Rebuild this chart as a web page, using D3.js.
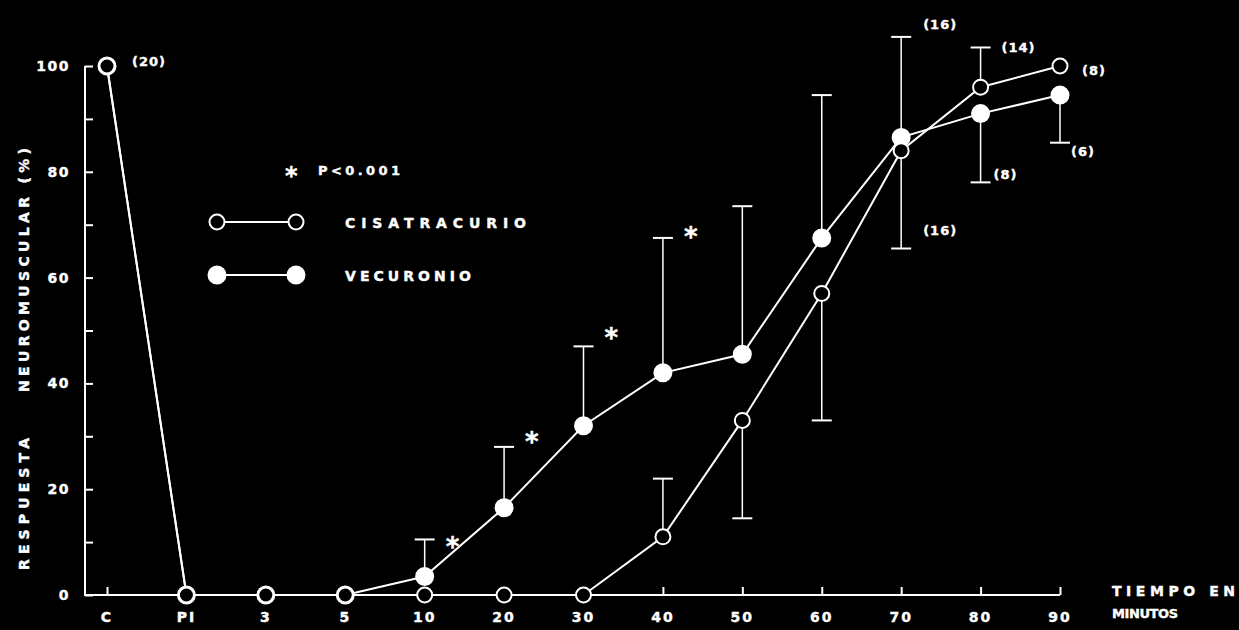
<!DOCTYPE html>
<html>
<head>
<meta charset="utf-8">
<script src="https://cdn.jsdelivr.net/npm/d3@7"></script>
<style>
body { margin: 0; background: #000; }
svg { display: block; background: #000; }
text { fill: #fff; stroke: #fff; stroke-width: 0.4px; font-family: "DejaVu Sans", sans-serif; font-weight: bold; }
</style>
</head>
<body>
<svg id="chart" width="1239" height="630"></svg>
<script>
// categories on the x axis (time points)
var categories = ["C", "PI", "3", "5", "10", "20", "30", "40", "50", "60", "70", "80", "90"]
var cisatracurio = [100, 0, 0, 0, 0, 0, 0, 11, 33, 57, 84, 96, 100]
var vecuronio = [100, 0, 0, 0, 3.5, 16.5, 32, 42, 45.5, 67.5, 86.5, 91, 94.5]

// error bar end values: [category, end]
var cisaErr = [["40", 22], ["50", 14.5], ["60", 33], ["70", 65.5], ["80", 103.5]]
var vecuErr = [["10", 10.5], ["20", 28], ["30", 47], ["40", 67.5], ["50", 73.5], ["60", 94.5], ["70", 105.5], ["80", 78], ["90", 85.5]]

// n labels: [category, value, text]
var nLabels = [["C", 101, "(20)"], ["70", 108, "(16)"], ["70", 69, "(16)"], ["80", 103.5, "(14)"], ["80", 79.5, "(8)"], ["90", 99.3, "(8)"], ["90", 84, "(6)"]]
var nOffsets = [25, 22, 22, 21, 13, 22, 11]

// significance stars: [category, value]
var stars = [["10", 10], ["20", 29.8], ["30", 49.5], ["40", 68.6]]

var yTicks = [0, 20, 40, 60, 80, 100]

var svg = d3.select("#chart")

var x = d3.scalePoint()
	.domain(categories)
	.range([107, 1060])

var y = d3.scaleLinear()
	.domain([0, 100])
	.range([595, 66])

// y axis
var yAxis = d3.axisRight(y)
	.tickValues(d3.range(0, 101, 10))
	.tickSize(8)
	.tickFormat("")

svg.append("g")
	.attr("transform", "translate(85,0)")
	.call(yAxis)
	.call(g => g.selectAll("line, path").attr("stroke", "#fff").attr("stroke-width", 2))
	.call(g => g.select(".domain").attr("d", "M0," + y(0) + "V" + y(100)))

svg.append("g")
	.selectAll("text")
	.data(yTicks)
	.join("text")
	.attr("x", 70)
	.attr("y", d => y(d) + 5)
	.attr("text-anchor", "end")
	.style("font-size", "14px")
	.style("letter-spacing", "1.5px")
	.text(d => d)

// x axis
var xAxis = d3.axisTop(x)
	.tickSize(8)
	.tickFormat("")

svg.append("g")
	.attr("transform", "translate(0," + y(0) + ")")
	.call(xAxis)
	.call(g => g.selectAll("line, path").attr("stroke", "#fff").attr("stroke-width", 2))
	.call(g => g.select(".domain").attr("d", "M84,0H1060"))

svg.append("g")
	.selectAll("text")
	.data(categories)
	.join("text")
	.attr("x", d => x(d))
	.attr("y", 622)
	.attr("text-anchor", "middle")
	.style("font-size", "14px")
	.style("letter-spacing", "2px")
	.text(d => d)

// axis titles
svg.append("text")
	.attr("transform", "translate(29,570) rotate(-90)")
	.attr("textLength", 132)
	.attr("lengthAdjust", "spacing")
	.style("font-size", "14px")
	.text("RESPUESTA")

svg.append("text")
	.attr("transform", "translate(29,392) rotate(-90)")
	.attr("textLength", 244)
	.attr("lengthAdjust", "spacing")
	.style("font-size", "14px")
	.text("NEUROMUSCULAR (%)")

svg.append("text")
	.attr("x", 1112).attr("y", 596)
	.attr("textLength", 123)
	.attr("lengthAdjust", "spacing")
	.style("font-size", "14px")
	.text("TIEMPO EN")

svg.append("text")
	.attr("x", 1112).attr("y", 618)
	.attr("textLength", 66)
	.attr("lengthAdjust", "spacing")
	.style("font-size", "13px")
	.text("MINUTOS")

// error bars
function drawErr(err, values) {
	let g = svg.append("g")
	.attr("stroke", "#fff")
	.attr("stroke-width", 1.5)
	err.forEach(function(e) {
		let i = categories.indexOf(e[0])
		let cx = x(e[0])
		g.append("line")
		.attr("x1", cx).attr("x2", cx)
		.attr("y1", y(values[i])).attr("y2", y(e[1]))
		g.append("line")
		.attr("x1", cx - 10).attr("x2", cx + 10)
		.attr("y1", y(e[1])).attr("y2", y(e[1]))
		.attr("stroke-width", 2)
	})
}
drawErr(cisaErr, cisatracurio)
drawErr(vecuErr, vecuronio)

// lines
var line = d3.line()
	.x((d, i) => x(categories[i]))
	.y(d => y(d))

function drawSeries(values, filled) {
	svg.append("path")
	.datum(values)
	.attr("d", line)
	.attr("fill", "none")
	.attr("stroke", "#fff")
	.attr("stroke-width", 2)

	svg.append("g")
	.selectAll("circle")
	.data(values)
	.join("circle")
	.attr("cx", (d, i) => x(categories[i]))
	.attr("cy", d => y(d))
	.attr("r", filled ? 8.5 : 7.5)
	.attr("fill", filled ? "#fff" : "#000")
	.attr("stroke", "#fff")
	.attr("stroke-width", 2)
}
drawSeries(vecuronio, true)
drawSeries(cisatracurio, false)

// n labels
svg.append("g")
	.selectAll("text")
	.data(nLabels)
	.join("text")
	.attr("x", (d, i) => x(d[0]) + nOffsets[i])
	.attr("y", d => y(d[1]) + 5)
	.style("font-size", "13px")
	.style("letter-spacing", "1px")
	.text(d => d[2])

// stars
svg.append("g")
	.selectAll("text")
	.data(stars)
	.join("text")
	.attr("x", d => x(d[0]) + 21)
	.attr("y", d => y(d[1]) + 14)
	.style("font-size", "26px")
	.text("*")

// legend
svg.append("text")
	.attr("x", 285).attr("y", 184)
	.style("font-size", "24px")
	.text("*")

svg.append("text")
	.attr("x", 318).attr("y", 175)
	.attr("textLength", 82)
	.attr("lengthAdjust", "spacing")
	.style("font-size", "13px")
	.text("P<0.001")

var legend = [["CISATRACURIO", false, 222, 181], ["VECURONIO", true, 275, 126]]
legend.forEach(function(l) {
	let g = svg.append("g")
	g.append("line")
	.attr("x1", 217).attr("x2", 296)
	.attr("y1", l[2]).attr("y2", l[2])
	.attr("stroke", "#fff").attr("stroke-width", 2)
	g.selectAll("circle")
	.data([217, 296])
	.join("circle")
	.attr("cx", d => d).attr("cy", l[2])
	.attr("r", l[1] ? 8.5 : 7.5)
	.attr("fill", l[1] ? "#fff" : "#000")
	.attr("stroke", "#fff").attr("stroke-width", 2)
	g.append("text")
	.attr("x", 345).attr("y", l[2] + 6)
	.attr("textLength", l[3])
	.attr("lengthAdjust", "spacing")
	.style("font-size", "14px")
	.text(l[0])
})
</script>
</body>
</html>
